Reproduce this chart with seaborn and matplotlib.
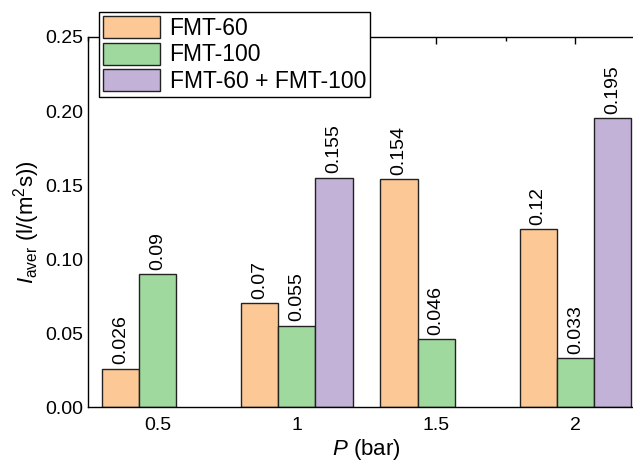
import matplotlib
matplotlib.use("Agg")
import matplotlib.pyplot as plt
from matplotlib.ticker import MultipleLocator, FuncFormatter, FormatStrFormatter
import numpy as np
import pandas as pd
import seaborn as sns

# Pressure values (bar) and mean intensity for each membrane configuration
pressure = [0.5, 1.0, 1.5, 2.0]
fmt60 = [0.026, 0.07, 0.154, 0.12]
fmt100 = [0.09, 0.055, 0.046, 0.033]
fmt_combined = [np.nan, 0.155, np.nan, 0.195]

series_names = ["FMT-60", "FMT-100", "FMT-60 + FMT-100"]
series_colors = ["#FCC996", "#A0D99E", "#C3B2D7"]

rows = []
for name, vals in zip(series_names, [fmt60, fmt100, fmt_combined]):
    for p, v in zip(pressure, vals):
        rows.append({"P": p, "I": v, "series": name})
df = pd.DataFrame(rows).dropna()

sns.set_theme(style="white")
plt.rcParams["font.family"] = ["Liberation Sans", "DejaVu Sans"]
plt.rcParams["mathtext.fontset"] = "custom"
plt.rcParams["mathtext.rm"] = "Liberation Sans"
plt.rcParams["mathtext.it"] = "Liberation Sans:italic"
plt.rcParams["text.color"] = "black"
plt.rcParams["axes.labelcolor"] = "black"
plt.rcParams["xtick.color"] = "black"
plt.rcParams["ytick.color"] = "black"

fig = plt.figure(figsize=(6.33, 4.65), dpi=100)
ax = fig.add_axes([88 / 633, (465 - 407) / 465, 557 / 633, 370 / 465])

sns.barplot(
    data=df, x="P", y="I", hue="series", hue_order=series_names,
    palette=series_colors, native_scale=True, errorbar=None,
    edgecolor="#222222", linewidth=1.0, saturation=1, ax=ax,
)

for cont in ax.containers:
    ax.bar_label(cont, fmt="%g", rotation=90, padding=3, fontsize=14,
                 color="black")

ax.set_xlim(0.25, 2.25)
ax.set_ylim(0, 0.25)
ax.xaxis.set_major_locator(MultipleLocator(0.5))
ax.xaxis.set_minor_locator(MultipleLocator(0.25))
ax.yaxis.set_major_locator(MultipleLocator(0.05))
ax.yaxis.set_minor_locator(MultipleLocator(0.025))
ax.xaxis.set_major_formatter(FuncFormatter(lambda v, _: f"{v:g}"))
ax.yaxis.set_major_formatter(FormatStrFormatter("%.2f"))

ax.tick_params(which="both", direction="in", top=True, right=True,
               colors="black", labelsize=14)
ax.tick_params(which="major", length=5, width=1)
ax.tick_params(which="minor", length=3, width=1)
ax.tick_params(axis="x", pad=7)
for s in ax.spines.values():
    s.set_color("black")
    s.set_linewidth(1.0)

ax.set_xlabel("$\\it{P}$ (bar)", fontsize=16, labelpad=2)
ax.set_ylabel("$\\it{I}_{\\rm{aver}}$ (l/(m$^2$s))", fontsize=16, labelpad=2)

handles, labels = ax.get_legend_handles_labels()
ax.get_legend().remove()
fig.legend(
    handles, labels, loc="upper left", bbox_to_anchor=(99 / 633, 1 - 12 / 465),
    borderaxespad=0, frameon=True, fancybox=False, framealpha=1,
    edgecolor="black", fontsize=16.5, handlelength=2.5, handleheight=1.1,
    labelspacing=0.12, handletextpad=0.4, borderpad=0.18,
)

fig.savefig("out.png", dpi=100)
